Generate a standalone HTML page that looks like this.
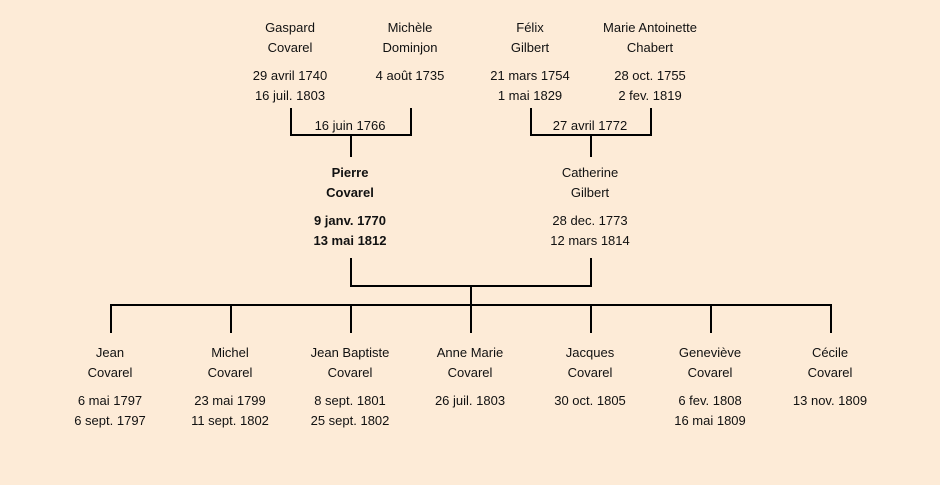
<!DOCTYPE html>
<html><head><meta charset="utf-8"><style>
html,body{margin:0;padding:0;background:#fdebd7;}
svg{display:block}
text{font-family:"Liberation Sans",sans-serif;font-size:13px;fill:#111;text-anchor:middle}
.b{font-weight:bold}
</style></head><body>
<svg width="940" height="485" viewBox="0 0 940 485">
<rect width="940" height="485" fill="#fdebd7"/>
<g stroke="#000" stroke-width="2" fill="none">
<path d="M291 108V135H411V108M351 135V157"/>
<path d="M531 108V135H651V108M591 135V157"/>
<path d="M351 258V286H591V258M471 286V305"/>
<path d="M111 333V305H831V333M231 305V333M351 305V333M471 305V333M591 305V333M711 305V333"/>
</g>
<text x="290" y="32">Gaspard</text><text x="290" y="52">Covarel</text>
<text x="290" y="80">29 avril 1740</text><text x="290" y="100">16 juil. 1803</text>
<text x="410" y="32">Michèle</text><text x="410" y="52">Dominjon</text>
<text x="410" y="80">4 août 1735</text>
<text x="530" y="32">Félix</text><text x="530" y="52">Gilbert</text>
<text x="530" y="80">21 mars 1754</text><text x="530" y="100">1 mai 1829</text>
<text x="650" y="32">Marie Antoinette</text><text x="650" y="52">Chabert</text>
<text x="650" y="80">28 oct. 1755</text><text x="650" y="100">2 fev. 1819</text>
<text x="350" y="130">16 juin 1766</text>
<text x="590" y="130">27 avril 1772</text>
<text class="b" x="350" y="177">Pierre</text><text class="b" x="350" y="197">Covarel</text>
<text class="b" x="350" y="225">9 janv. 1770</text><text class="b" x="350" y="245">13 mai 1812</text>
<text x="590" y="177">Catherine</text><text x="590" y="197">Gilbert</text>
<text x="590" y="225">28 dec. 1773</text><text x="590" y="245">12 mars 1814</text>
<text x="110" y="357">Jean</text><text x="110" y="377">Covarel</text>
<text x="110" y="405">6 mai 1797</text><text x="110" y="425">6 sept. 1797</text>
<text x="230" y="357">Michel</text><text x="230" y="377">Covarel</text>
<text x="230" y="405">23 mai 1799</text><text x="230" y="425">11 sept. 1802</text>
<text x="350" y="357">Jean Baptiste</text><text x="350" y="377">Covarel</text>
<text x="350" y="405">8 sept. 1801</text><text x="350" y="425">25 sept. 1802</text>
<text x="470" y="357">Anne Marie</text><text x="470" y="377">Covarel</text>
<text x="470" y="405">26 juil. 1803</text>
<text x="590" y="357">Jacques</text><text x="590" y="377">Covarel</text>
<text x="590" y="405">30 oct. 1805</text>
<text x="710" y="357">Geneviève</text><text x="710" y="377">Covarel</text>
<text x="710" y="405">6 fev. 1808</text><text x="710" y="425">16 mai 1809</text>
<text x="830" y="357">Cécile</text><text x="830" y="377">Covarel</text>
<text x="830" y="405">13 nov. 1809</text>
</svg>
</body></html>
